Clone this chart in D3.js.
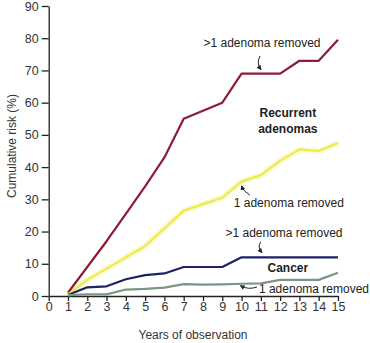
<!DOCTYPE html>
<html><head><meta charset="utf-8">
<script src="https://cdn.jsdelivr.net/npm/d3@7"></script>
<style>body{margin:0;background:#fff}svg{display:block}text{font-family:"Liberation Sans",Arial,sans-serif}</style>
</head><body>
<svg id="c" width="370" height="343"></svg>
<script>
const years = [1,2,3,4,5,6,7,8,9,10,11,12,13,14,15];
const adenomaMulti = [1,9,17,25.5,34,43,55,57.5,60,69,69,69,73,73,79.5];
const adenomaSingle = [0.5,5,8.5,12,15.5,21,26.5,28.5,30.5,35.5,37.5,42,45.5,45,47.5];
const cancerMulti = [0.3,2.7,3,5.2,6.5,7,9,9,9,12,12,12,12,12,12];
const cancerSingle = [0.3,0.5,0.5,2,2.2,2.6,3.7,3.5,3.6,3.8,3.9,5,5,5,7.2];
const xTicks = [0,1,2,3,4,5,6,7,8,9,10,11,12,13,14,15];
const yTicks = [0,10,20,30,40,50,60,70,80,90];

const svg = d3.select("#c");
const x = d3.scaleLinear().domain([0,15]).range([48.7,338]);
const y = d3.scaleLinear().domain([0,90]).range([296,6]);

// axes
const xa = svg.append("g").attr("transform",`translate(0,${y(0)})`)
  .call(d3.axisBottom(x).tickValues(xTicks).tickSize(5).tickPadding(1).tickSizeOuter(0));
const ya = svg.append("g").attr("transform",`translate(${x(0)},0)`)
  .call(d3.axisLeft(y).tickValues(yTicks).tickSize(7).tickPadding(3).tickSizeOuter(0));
[xa,ya].forEach(g=>{
  g.selectAll("path,line").attr("stroke","#222").attr("stroke-width",1.3);
  g.selectAll("text").attr("font-size",12.5).attr("fill","#333").attr("font-family","Liberation Sans, Arial, sans-serif");
});

svg.append("text").attr("x",193).attr("y",339).attr("text-anchor","middle")
  .attr("font-size",12).attr("fill","#333").text("Years of observation");
svg.append("text").attr("transform","translate(16,146) rotate(-90)").attr("text-anchor","middle")
  .attr("font-size",12).attr("fill","#333").text("Cumulative risk (%)");

const line = d3.line().x((d,i)=>x(years[i])).y(d=>y(d));
// yellow glow
svg.append("path").datum(adenomaSingle).attr("d",line).attr("fill","none")
  .attr("stroke","#f6f3a8").attr("stroke-width",6).attr("stroke-opacity",0.5).attr("stroke-linejoin","round");
const series = [
  {v:adenomaMulti,c:"#8c1c35"},
  {v:adenomaSingle,c:"#eceb4a"},
  {v:cancerMulti,c:"#1d2166"},
  {v:cancerSingle,c:"#7b9683"}
];
series.forEach(s=>{
  svg.append("path").datum(s.v).attr("d",line).attr("fill","none")
    .attr("stroke",s.c).attr("stroke-width",2.2).attr("stroke-linejoin","round");
});

// arrow marker
svg.append("defs").append("marker").attr("id","ah").attr("viewBox","0 0 10 10")
  .attr("refX",8).attr("refY",5).attr("markerWidth",5).attr("markerHeight",5)
  .attr("orient","auto").append("path").attr("d","M0,0L10,5L0,10z").attr("fill","#222");

function label(t,xv,yv,anchor,bold){
  svg.append("text").attr("x",x(xv)).attr("y",y(yv)).attr("text-anchor",anchor||"middle")
    .attr("font-size",12).attr("font-weight",bold?"bold":"normal").attr("fill","#222").text(t);
}
function arrow(p0,pc,p1){
  svg.append("path").attr("d",`M${x(p0[0])},${y(p0[1])}Q${x(pc[0])},${y(pc[1])} ${x(p1[0])},${y(p1[1])}`)
    .attr("fill","none").attr("stroke","#222").attr("stroke-width",1).attr("marker-end","url(#ah)");
}
label(">1 adenoma removed",11.06,77.3);
arrow([10.96,74.5],[10.75,72.3],[11.0,70.3]);
label("Recurrent",12.4,55.4,"middle",true);
label("adenomas",12.4,50.7,"middle",true);
label("1 adenoma removed",12.45,27.6);
arrow([10.43,31.3],[10.1,32.5],[10.0,34.1]);
label(">1 adenoma removed",12.2,18.4);
arrow([11.0,16.8],[10.8,15.3],[11.05,13.5]);
label("Cancer",12.4,7.3,"middle",true);
label("1 adenoma removed",10.9,0.9,"start");
arrow([10.8,2.8],[10.35,1.8],[9.95,3.2]);
</script>
</body></html>
